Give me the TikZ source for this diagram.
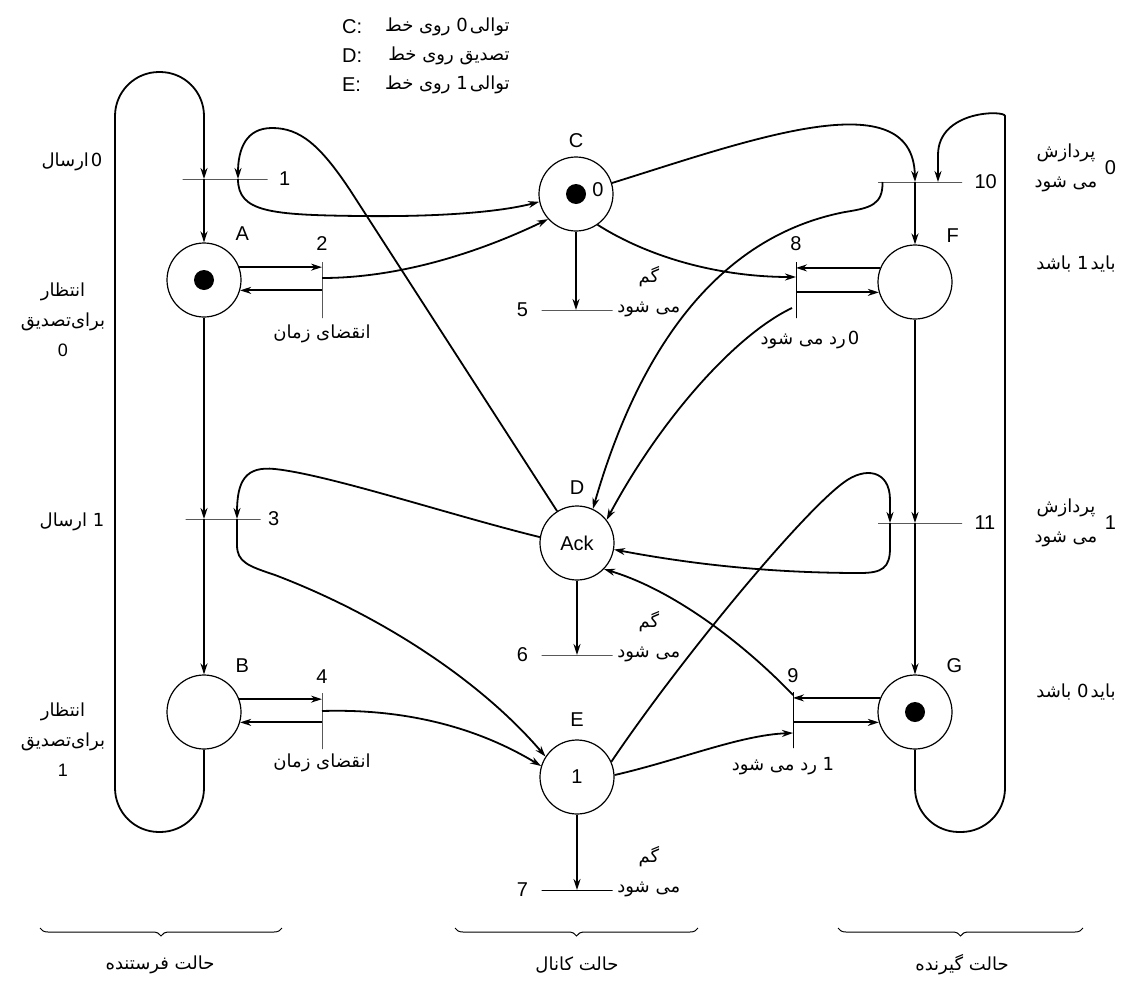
\documentclass[tikz,border=0pt]{standalone}
\usepackage{fontspec}
\setmainfont{Liberation Sans}
\newfontfamily\fafont[Script=Arabic]{DejaVu Sans}
\TeXXeTstate=1
\usetikzlibrary{arrows.meta,positioning,calc,decorations.pathreplacing}
\tikzset{>={Stealth[length=5.5pt,width=3.5pt]}}
\newcommand{\fatext}[1]{\beginR #1\endR}

\begin{document}
\begin{tikzpicture}[x=0.5pt, y=-0.5pt,
    place/.style={circle, draw, line width=0.6pt, minimum size=37pt, inner sep=0pt},
    token/.style={circle, fill, minimum size=10pt, inner sep=0pt},
    hbar/.style={draw, line width=0.5pt, minimum width=#1, minimum height=0pt, inner sep=0pt},
    hbar/.default=35.5pt,
    vbar/.style={draw, line width=0.5pt, minimum width=0pt, minimum height=28pt, inner sep=0pt},
    arr/.style={->, line width=0.9pt},
    fa/.style={font=\fafont\fontsize{9}{15}\selectfont, align=center, inner sep=1pt},
    stateBrace/.style={decorate, decoration={brace, mirror, amplitude=4pt}, line width=0.5pt},
    node distance=2pt
  ]
    \useasboundingbox (0,0) rectangle (1129,985);

    % places
    \node[place] (A) at (204,280) {};
    \node[place] (B) at (204,712) {};
    \node[place] (C) at (576,194) {};
    \node[place] (D) at (577,543) {Ack};
    \node[place] (E) at (577,777) {1};
    \node[place] (F) at (915,282) {};
    \node[place] (G) at (915,712) {};
    \node[token] (tokA) at (A) {};
    \node[token] (tokC) at (C) {};
    \node[token] (tokG) at (G) {};
    \node (zeroC) at (598,190) {0};

    \node[above right=3pt and -1pt of A] (labA) {A};
    \node[above right=3pt and -1pt of B] (labB) {B};
    \node[above=1pt of C] (labC) {C};
    \node[above=2pt of D] (labD) {D};
    \node[above=3pt of E] (labE) {E};
    \node[above right=3pt and -1pt of F] (labF) {F};
    \node[above right=3pt and -1pt of G] (labG) {G};

    % transitions
    \node[hbar=42.5pt] (t1) at (225,179) {};
    \node[vbar] (t2) at (322,290) {};
    \node[hbar=37.5pt] (t3) at (223,519) {};
    \node[vbar] (t4) at (322,721) {};
    \node[hbar] (t5) at (577,310) {};
    \node[hbar] (t6) at (577,655) {};
    \node[hbar] (t7) at (577,890) {};
    \node[vbar] (t8) at (796,290) {};
    \node[vbar] (t9) at (793,720) {};
    \node[hbar=42pt] (t10) at (920,182) {};
    \node[hbar=42pt] (t11) at (920,523) {};

    \node[right=2pt of t1] (n1) {1};
    \node[above=2pt of t2] (n2) {2};
    \node[right=0pt of t3] (n3) {3};
    \node[above=1pt of t4] (n4) {4};
    \node[left=3pt of t5] (n5) {5};
    \node[left=3pt of t6] (n6) {6};
    \node[left=3pt of t7] (n7) {7};
    \node[above=2pt of t8] (n8) {8};
    \node[above=1pt of t9] (n9) {9};
    \node[right=2.5pt of t10] (n10) {10};
    \node[right=2.5pt of t11] (n11) {11};

    % legend
    \node[anchor=west] (keyC) at (335,27) {C:};
    \node[anchor=west] (keyD) at (335,56) {D:};
    \node[anchor=west] (keyE) at (335,85) {E:};
    \node[fa, anchor=east] (seqC) at (512,27) {\fatext{توالی\kern1pt 0 روی خط}};
    \node[fa, anchor=east] (ackD) at (512,56) {\fatext{تصدیق روی خط}};
    \node[fa, anchor=east] (seqE) at (512,85) {\fatext{توالی\kern1pt 1 روی خط}};

    % side texts
    \node[fa] (send0) at (72,162) {\fatext{0\kern1pt ارسال}};
    \node[fa] (send1) at (72,522) {\fatext{1 ارسال}};
    \node[fa] (wait0) at (63,320) {\fatext{انتظار}\\\fatext{برای‌تصدیق}\\{\normalfont 0}};
    \node[fa] (wait1) at (63,740) {\fatext{انتظار}\\\fatext{برای‌تصدیق}\\{\normalfont 1}};
    \node[fa, below=2pt of t2] (tout2) {\fatext{انقضای زمان}};
    \node[fa, below=1pt of t4] (tout4) {\fatext{انقضای زمان}};
    \node[fa, above right=-5pt and 1pt of t5] (loss5) {\fatext{گم}\\\fatext{می شود}};
    \node[fa, above right=-5pt and 1pt of t6] (loss6) {\fatext{گم}\\\fatext{می شود}};
    \node[fa, above right=-5pt and 1pt of t7] (loss7) {\fatext{گم}\\\fatext{می شود}};
    \node[fa, below=5pt of t8, xshift=7pt] (rej0) {\fatext{0\kern1pt رد می شود}};
    \node[fa, below=3pt of t9, xshift=-5pt] (rej1) {\fatext{1 رد می شود}};
    \node[fa] (proc0) at (1066,168) {\fatext{پردازش}\\\fatext{می شود}};
    \node[right=-1pt of proc0] (proc0n) {0};
    \node[fa] (must1) at (1076,264) {\fatext{باید\kern1pt 1 باشد}};
    \node[fa] (proc1) at (1066,523) {\fatext{پردازش}\\\fatext{می شود}};
    \node[right=-1pt of proc1] (proc1n) {1};
    \node[fa] (must0) at (1076,692) {\fatext{باید\kern1pt 0 باشد}};

    % sender
    \draw[arr, rounded corners=22pt] (B.south) -- (204,832) -- (115,832) -- (115,72) -- (204,72) -- (A |- t1.center);
    \draw[arr] (A |- t1.center) -- (A.north);
    \draw[arr] (A.south) -- (A |- t3.center);
    \draw[arr] (B |- t3.center) -- (B.north);
    \draw[arr] (A.20) -- (A.20 -| t2.center);
    \draw[arr] (A.-16 -| t2.center) -- (A.-16);
    \draw[arr] (B.20) -- (B.20 -| t4.center);
    \draw[arr] (B.-16 -| t4.center) -- (B.-16);
    \draw[arr] ($(t1.center)+(13,0)$) .. controls (238,212) and (270,215) .. (360,216) .. controls (440,217) and (500,212) .. (C.192);
    \draw[arr] ($(t2.center)+(0,-12)$) .. controls (400,278) and (480,252) .. (C.222);
    \draw[arr] ($(t3.center)+(14,0)$) -- (237,545) .. controls (237,562) and (248,566) .. (275,575) .. controls (380,615) and (480,680) .. (E.147);
    \draw[arr] ($(t4.center)+(0,-10)$) .. controls (420,708) and (490,735) .. (E.163);

    % channel
    \draw[arr] (D.122) -- (350,190) .. controls (320,145) and (300,128) .. (272,128) .. controls (246,128) and (238,149) .. ($(t1.center)+(13,0)$);
    \draw[arr] (D.171) .. controls (450,515) and (330,475) .. (275,469) .. controls (246,466) and (237,480) .. ($(t3.center)+(14,0)$);
    \draw[arr] (C.south) -- (C |- t5.center);
    \draw[arr] (D.south) -- (D |- t6.center);
    \draw[arr] (E.south) -- (E |- t7.center);
    \draw[arr] (C.-55) .. controls (650,258) and (720,277) .. ($(t8.center)+(0,-13)$);
    \draw[arr] (C.17) .. controls (750,140) and (913,80) .. (F |- t10.center);
    \draw[arr] (E.3) .. controls (680,760) and (740,735) .. ($(t9.center)+(0,13)$);
    \draw[arr] (E.24) .. controls (680,660) and (800,515) .. (843,483) .. controls (865,466) and (890,470) .. (890,500) -- ($(t11.center)+(-30,0)$);

    % receiver
    \draw[arr, rounded corners=22pt] (G.south) -- (915,832) -- (1005,832) -- (1005,160) [sharp corners] .. controls (1005,110) and (938,110) .. (938,155) -- ($(t10.center)+(18,0)$);
    \draw[arr] (F |- t10.center) -- (F.north);
    \draw[arr] (F.south) -- (F |- t11.center);
    \draw[arr] (G |- t11.center) -- (G.north);
    \draw[arr] (F.158) -- (F.158 -| t8.center);
    \draw[arr] (F.196 -| t8.center) -- (F.196);
    \draw[arr] (G.158) -- (G.158 -| t9.center);
    \draw[arr] (G.196 -| t9.center) -- (G.196);
    \draw[arr] ($(t8.center)+(-4,18)$) .. controls (735,335) and (660,420) .. (D.38);
    \draw[arr] ($(t10.west)+(5,0)$) .. controls (883,205) and (870,208) .. (845,212) .. controls (700,240) and (630,380) .. (D.65);
    \draw[arr] ($(t11.center)+(-30,0)$) -- (890,548) .. controls (890,568) and (882,573) .. (860,573) .. controls (760,573) and (680,562) .. (D.-10);
    \draw[arr] ($(t9.center)+(0,-25)$) .. controls (752,652) and (680,592) .. (D.-44);

    % states
    \draw[stateBrace] (40,928) -- (282,928);
    \draw[stateBrace] (455,928) -- (698,928);
    \draw[stateBrace] (838,928) -- (1083,928);
    \node[fa] (sender) at (160,965) {\fatext{حالت فرستنده}};
    \node[fa] (channel) at (577,965) {\fatext{حالت کانال}};
    \node[fa] (receiver) at (962,965) {\fatext{حالت گیرنده}};
\end{tikzpicture}
\end{document}
